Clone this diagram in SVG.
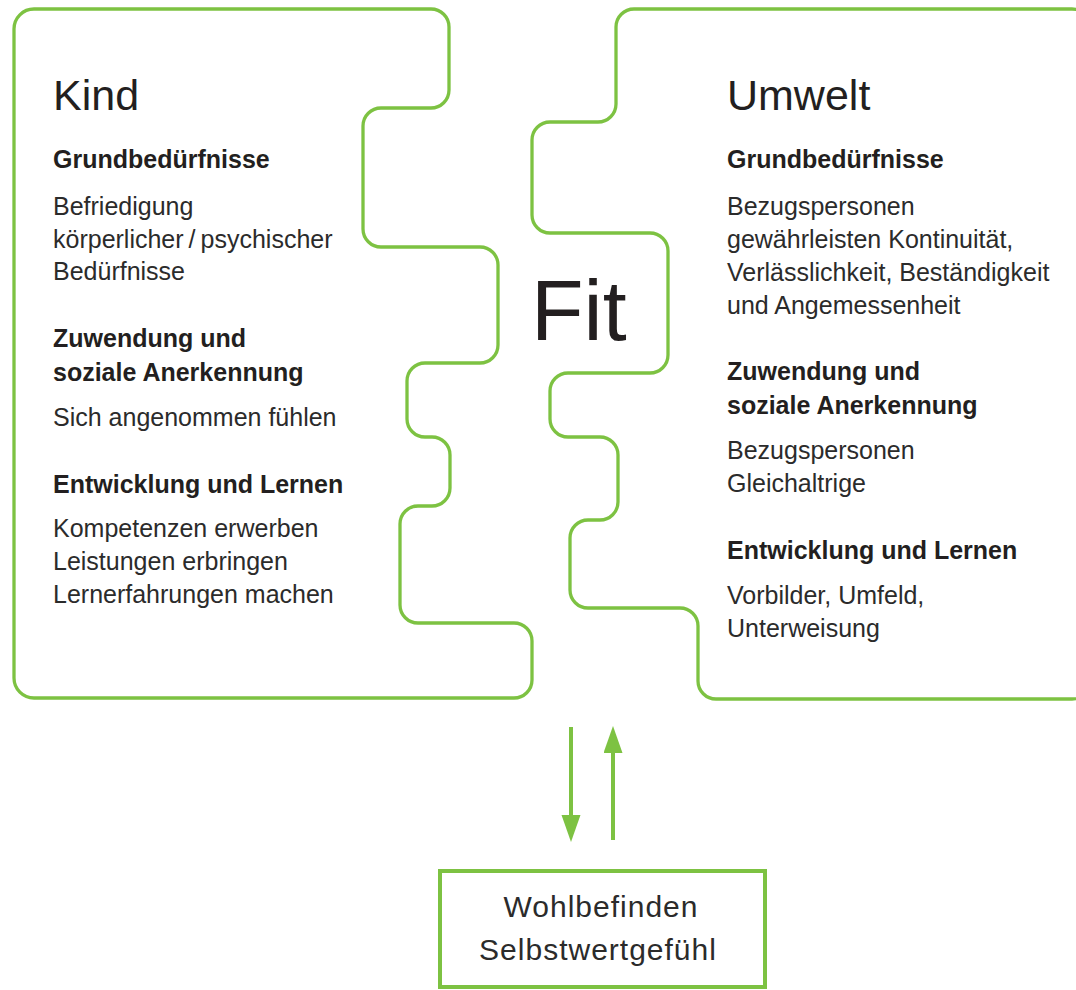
<svg xmlns="http://www.w3.org/2000/svg" width="1076" height="990" viewBox="0 0 1076 990">
<style>
.shape{fill:none;stroke:#7dc242;stroke-width:3.3;stroke-linejoin:round}
.t{font-family:"Liberation Sans",Arial,sans-serif;fill:#231f20}
.h1{font-size:43px}
.b{font-size:25px;font-weight:bold}
.r{font-size:25px;fill:#2b2b2b}
.fit{font-size:86px}
.box{fill:#fff;stroke:#7dc242;stroke-width:4}
.bt{font-size:30px;letter-spacing:1px;text-anchor:middle;fill:#2b2b2b}
.conn{stroke:#7dc242;stroke-width:4;fill:none}
</style>
<defs>
<marker id="ah" markerUnits="userSpaceOnUse" markerWidth="28" markerHeight="20" refX="0" refY="9.5" orient="auto">
<path d="M0,0 L27,9.5 L0,19 Z" fill="#7dc242"/>
</marker>
</defs>
<rect width="1076" height="990" fill="#fff"/>
<g id="kind">
<path class="shape" d="M34,9 H431 A18,18 0 0 1 449,27 V90 A18,18 0 0 1 431,108 H381 A18,18 0 0 0 363,126 V229 A18,18 0 0 0 381,247 H480 A18,18 0 0 1 498,265 V345 A18,18 0 0 1 480,363 H425 A18,18 0 0 0 407,381 V419 A18,18 0 0 0 425,437 H432 A18,18 0 0 1 450,455 V488 A18,18 0 0 1 432,506 H418 A18,18 0 0 0 400,524 V605 A18,18 0 0 0 418,623 H514 A18,18 0 0 1 532,641 V680 A18,18 0 0 1 514,698 H34 A20,20 0 0 1 14,678 V29 A20,20 0 0 1 34,9 Z"/>
<text class="t h1" x="53" y="110">Kind</text>
<text class="t b" x="53" y="168">Grundbedürfnisse</text>
<text class="t r" x="53" y="215">Befriedigung</text>
<text class="t r" x="53" y="248">körperlicher&#8201;/&#8201;psychischer</text>
<text class="t r" x="53" y="280">Bedürfnisse</text>
<text class="t b" x="53" y="347">Zuwendung und</text>
<text class="t b" x="53" y="381">soziale Anerkennung</text>
<text class="t r" x="53" y="426">Sich angenommen fühlen</text>
<text class="t b" x="53" y="493">Entwicklung und Lernen</text>
<text class="t r" x="53" y="537">Kompetenzen erwerben</text>
<text class="t r" x="53" y="570">Leistungen erbringen</text>
<text class="t r" x="53" y="603">Lernerfahrungen machen</text>
</g>
<g id="umwelt">
<path class="shape" d="M634,9 H1072 A18,18 0 0 1 1090,27 V681 A18,18 0 0 1 1072,699 H716 A18,18 0 0 1 698,681 V626 A18,18 0 0 0 680,608 H588 A18,18 0 0 1 570,590 V538 A18,18 0 0 1 588,520 H600 A18,18 0 0 0 618,502 V455 A18,18 0 0 0 600,437 H568 A18,18 0 0 1 550,419 V391 A18,18 0 0 1 568,373 H650 A18,18 0 0 0 668,355 V251 A18,18 0 0 0 650,233 H550 A18,18 0 0 1 532,215 V140 A18,18 0 0 1 550,122 H598 A18,18 0 0 0 616,104 V27 A18,18 0 0 1 634,9 Z"/>
<text class="t h1" x="727" y="110">Umwelt</text>
<text class="t b" x="727" y="168">Grundbedürfnisse</text>
<text class="t r" x="727" y="215">Bezugspersonen</text>
<text class="t r" x="727" y="248">gewährleisten Kontinuität,</text>
<text class="t r" x="727" y="281">Verlässlichkeit, Beständigkeit</text>
<text class="t r" x="727" y="314">und Angemessenheit</text>
<text class="t b" x="727" y="380">Zuwendung und</text>
<text class="t b" x="727" y="414">soziale Anerkennung</text>
<text class="t r" x="727" y="459">Bezugspersonen</text>
<text class="t r" x="727" y="492">Gleichaltrige</text>
<text class="t b" x="727" y="559">Entwicklung und Lernen</text>
<text class="t r" x="727" y="604">Vorbilder, Umfeld,</text>
<text class="t r" x="727" y="637">Unterweisung</text>
</g>
<g id="fit">
<text class="t fit" x="531" y="340">Fit</text>
</g>
<g id="connectors">
<path class="conn" d="M571,727 V815" marker-end="url(#ah)"/>
<path class="conn" d="M613,840 V753" marker-end="url(#ah)"/>
</g>
<g id="wohlbefinden">
<rect class="box" x="440" y="871" width="325" height="116"/>
<text class="t bt" x="601" y="917">Wohlbefinden</text>
<text class="t bt" x="598" y="960">Selbstwertgefühl</text>
</g>
</svg>
